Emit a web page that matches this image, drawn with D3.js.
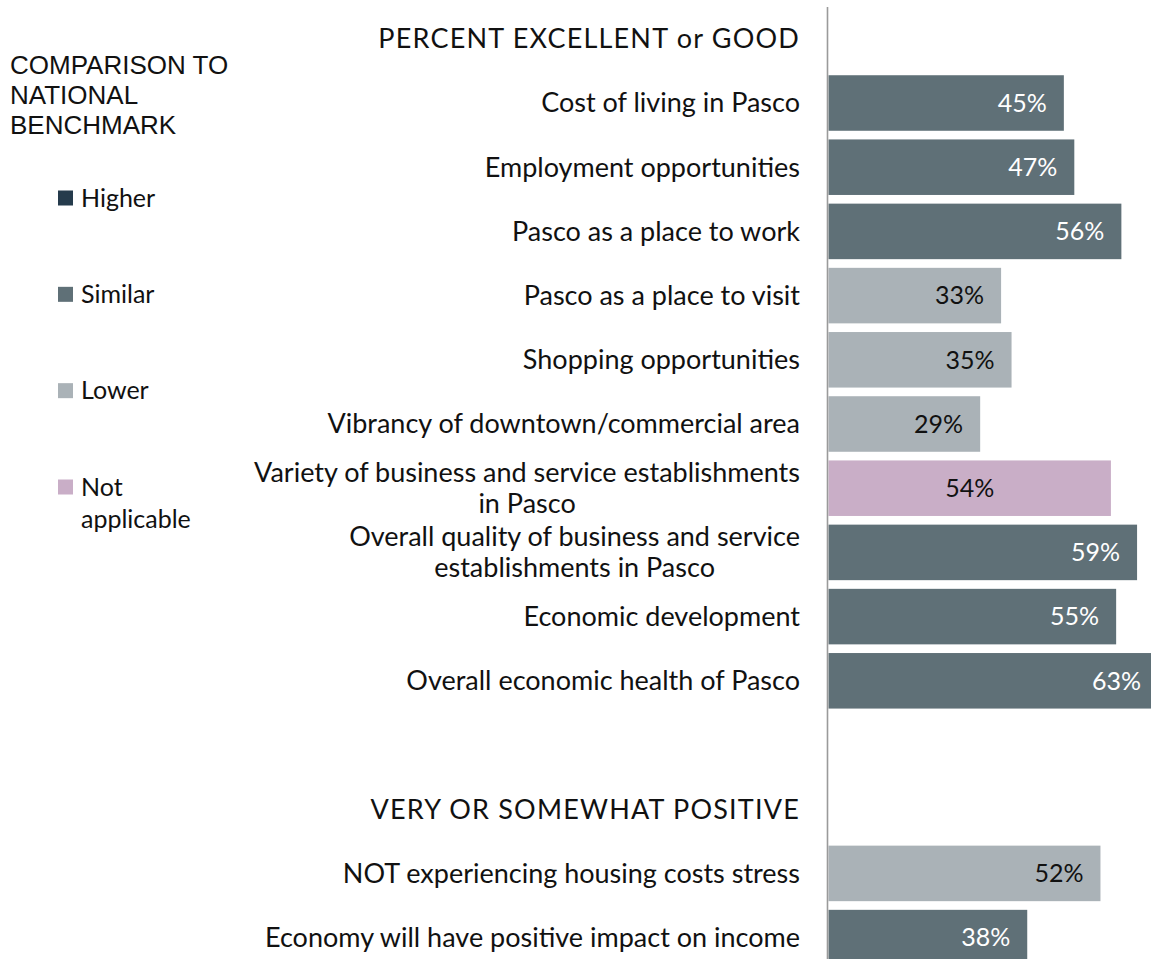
<!DOCTYPE html>
<html>

<head>
  <title>Economy ratings</title>
</head>

<style>
  body,
  html {
    margin: 0;
    padding: 0;
    background: #fff;
  }

  #svg {
    display: block;
  }

  .lbl {
    font-family: Lato, "Open Sans", sans-serif;
    font-size: 27px;
    fill: #111;
  }

  .val {
    font-family: Lato, "Open Sans", sans-serif;
    font-size: 25px;
  }

  .title {
    letter-spacing: 1.2px;
  }

  .bench {
    font-family: "Liberation Sans", Arial, sans-serif;
    font-size: 26px;
    fill: #111;
  }
</style>

<body>

  <svg id="svg" width="1151" height="959"></svg>

  <script src="https://d3js.org/d3.v7.min.js"></script>
  <script>

    // data
    const section1Title = 'PERCENT EXCELLENT or GOOD'
    const section1Labels = [
      'Cost of living in Pasco',
      'Employment opportunities',
      'Pasco as a place to work',
      'Pasco as a place to visit',
      'Shopping opportunities',
      'Vibrancy of downtown/commercial area',
      'Variety of business and service establishments\nin Pasco',
      'Overall quality of business and service\nestablishments in Pasco',
      'Economic development',
      'Overall economic health of Pasco'
    ]
    const section1Values = [45, 47, 56, 33, 35, 29, 54, 59, 55, 63]
    const section1Compare = ['Similar', 'Similar', 'Similar', 'Lower', 'Lower', 'Lower',
      'Not applicable', 'Similar', 'Similar', 'Similar']

    const section2Title = 'VERY OR SOMEWHAT POSITIVE'
    const section2Labels = [
      'NOT experiencing housing costs stress',
      'Economy will have positive impact on income'
    ]
    const section2Values = [52, 38]
    const section2Compare = ['Lower', 'Similar']

    const legendTitle = ['COMPARISON TO', 'NATIONAL', 'BENCHMARK']
    const legendLabels = ['Higher', 'Similar', 'Lower', 'Not applicable']
    const legendColors = ['#253b4c', '#5f7077', '#aab2b7', '#c9aec7']

    // build the rows: title, bars, blank spacer, title, bars
    const rows = []
    rows.push({ key: 't1', kind: 'title', label: section1Title })
    section1Labels.forEach((l, i) => rows.push({
      key: 'a' + i, kind: 'bar', label: l, value: section1Values[i], compare: section1Compare[i]
    }))
    rows.push({ key: 'gap', kind: 'gap', label: '' })
    rows.push({ key: 't2', kind: 'title', label: section2Title })
    section2Labels.forEach((l, i) => rows.push({
      key: 'b' + i, kind: 'bar', label: l, value: section2Values[i], compare: section2Compare[i]
    }))

    const svg = d3.select('#svg')

    const color = d3.scaleOrdinal()
      .domain(legendLabels)
      .range(legendColors)

    const xscale = d3.scaleLinear()
      .domain([0, 100])
      .range([828.5, 1351.5])

    const yscale = d3.scaleBand()
      .domain(rows.map(d => d.key))
      .range([6.7, 969.7])
      .paddingInner(0.135)
      .paddingOuter(0.0675)

    const bars = rows.filter(d => d.kind === 'bar')

    // bars
    svg.append('g')
      .selectAll('rect')
      .data(bars)
      .join('rect')
      .attr('x', xscale(0))
      .attr('y', d => yscale(d.key))
      .attr('width', d => xscale(d.value) - xscale(0))
      .attr('height', yscale.bandwidth())
      .attr('fill', d => color(d.compare))

    // axis line
    svg.append('line')
      .attr('x1', 827.5)
      .attr('x2', 827.5)
      .attr('y1', 7)
      .attr('y2', 959)
      .attr('stroke', '#9a9a9a')
      .attr('stroke-width', 1.6)

    // value labels
    svg.append('g')
      .selectAll('text')
      .data(bars)
      .join('text')
      .attr('class', 'val')
      .attr('x', d => d.compare === 'Not applicable'
        ? (xscale(0) + xscale(d.value)) / 2
        : xscale(d.value) - 17)
      .attr('y', d => yscale(d.key) + yscale.bandwidth() / 2)
      .attr('dy', '0.35em')
      .attr('text-anchor', d => d.compare === 'Not applicable' ? 'middle' : 'end')
      .style('fill', d => (d.compare === 'Similar' || d.compare === 'Higher') ? '#fff' : '#111')
      .text(d => d.value + '%')

    // category labels and section titles
    const lineH = 31
    const labels = svg.append('g')
      .selectAll('text')
      .data(rows.filter(d => d.kind !== 'gap'))
      .join('text')
      .attr('class', d => d.kind === 'title' ? 'lbl title' : 'lbl')
      .attr('y', d => yscale(d.key) + yscale.bandwidth() / 2)

    labels.each(function (d) {
      const parts = d.label.split('\n')
      const t = d3.select(this)
      if (parts.length === 1) {
        t.attr('x', 800).attr('text-anchor', 'end').attr('dy', '0.35em').text(parts[0])
        return
      }
      // multi-line labels are centred as a block, right edge at 800
      t.attr('text-anchor', 'middle')
      const spans = parts.map((p, i) => t.append('tspan')
        .attr('y', +t.attr('y') + (i - (parts.length - 1) / 2) * lineH)
        .attr('dy', '0.35em')
        .text(p))
      const w = d3.max(spans, s => s.node().getComputedTextLength())
      spans.forEach(s => s.attr('x', 800 - w / 2))
    })

    // legend
    svg.append('g')
      .selectAll('text')
      .data(legendTitle)
      .join('text')
      .attr('class', 'bench')
      .attr('x', 10)
      .attr('y', (d, i) => 74 + i * 30)
      .text(d => d)

    const ly = d3.scalePoint()
      .domain(legendLabels)
      .range([198, 487])

    const items = svg.append('g')
      .selectAll('g')
      .data(legendLabels)
      .join('g')
      .attr('transform', d => `translate(58, ${ly(d)})`)

    items.append('rect')
      .attr('x', 0)
      .attr('y', -7.5)
      .attr('width', 15)
      .attr('height', 15)
      .attr('fill', d => color(d))

    items.append('text')
      .attr('class', 'val')
      .style('fill', '#111')
      .attr('x', 23)
      .each(function (d) {
        const words = d === 'Not applicable' ? ['Not', 'applicable'] : [d]
        d3.select(this).selectAll('tspan')
          .data(words)
          .join('tspan')
          .attr('x', 23)
          .attr('dy', (w, i) => i === 0 ? '0.35em' : '1.3em')
          .text(w => w)
      })

  </script>

</body>

</html>
